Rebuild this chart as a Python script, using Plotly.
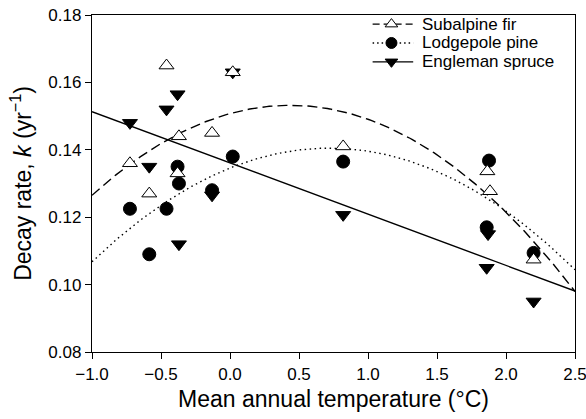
import numpy as np
import plotly.graph_objects as go

# ---- data ----
fir_x = [-0.725, -0.585, -0.46, -0.37, -0.38, -0.13, 0.02, 0.82, 1.865, 1.884, 2.20]
fir_y = [0.136, 0.127, 0.165, 0.144, 0.133, 0.145, 0.163, 0.141, 0.1336, 0.1277, 0.1074]

pine_x = [-0.725, -0.585, -0.46, -0.38, -0.37, -0.13, 0.02, 0.82, 1.877, 1.86, 2.20]
pine_y = [0.1225, 0.109, 0.1225, 0.135, 0.130, 0.128, 0.138, 0.1365, 0.1368, 0.117, 0.1094]

spruce_x = [-0.725, -0.585, -0.46, -0.38, -0.37, -0.13, 0.02, 0.82, 1.87, 1.86, 2.20]
spruce_y = [0.148, 0.135, 0.152, 0.1565, 0.112, 0.1265, 0.163, 0.1207, 0.115, 0.105, 0.095]

# fitted curves (vertex form for quadratics, slope/intercept for linear)
fir_fit = dict(a=-0.01296, h=0.4356, k=0.1532)
pine_fit = dict(a=-0.0114, h=0.72, k=0.1405)
spruce_fit = dict(b0=0.1361, b1=-0.0152)

legend_names = ["Subalpine fir", "Lodgepole pine", "Engleman spruce"]

x_range = [-1.0, 2.5]
y_range = [0.08, 0.18]
x_ticks = [-1.0, -0.5, 0.0, 0.5, 1.0, 1.5, 2.0, 2.5]
y_ticks = [0.08, 0.10, 0.12, 0.14, 0.16, 0.18]

xs = np.linspace(x_range[0], x_range[1], 200)
fir_curve = fir_fit["a"] * (xs - fir_fit["h"]) ** 2 + fir_fit["k"]
pine_curve = pine_fit["a"] * (xs - pine_fit["h"]) ** 2 + pine_fit["k"]
spruce_curve = spruce_fit["b0"] + spruce_fit["b1"] * xs

FONT = "Liberation Sans, Arial, sans-serif"
LW = 1.4
DASH = "10px,5px"
DOT = "1.5px,3.5px"

fig = go.Figure()

# fitted lines
fig.add_trace(go.Scatter(x=xs, y=fir_curve, mode="lines", showlegend=False,
                         line=dict(color="black", width=LW, dash=DASH), hoverinfo="skip"))
fig.add_trace(go.Scatter(x=xs, y=pine_curve, mode="lines", showlegend=False,
                         line=dict(color="black", width=LW, dash=DOT), hoverinfo="skip"))
fig.add_trace(go.Scatter(x=xs, y=spruce_curve, mode="lines", showlegend=False,
                         line=dict(color="black", width=LW), hoverinfo="skip"))

# points
fig.add_trace(go.Scatter(x=spruce_x, y=spruce_y, mode="markers", showlegend=False,
                         marker=dict(symbol="triangle-down", size=13, color="black",
                                     line=dict(color="black", width=1))))
fig.add_trace(go.Scatter(x=pine_x, y=pine_y, mode="markers", showlegend=False,
                         marker=dict(symbol="circle", size=13, color="black",
                                     line=dict(color="black", width=1))))
fig.add_trace(go.Scatter(x=fir_x, y=fir_y, mode="markers", showlegend=False,
                         marker=dict(symbol="triangle-up", size=13, color="white",
                                     line=dict(color="black", width=1))))

# ---- hand-built legend key on an overlay axis (0..1 in plot-area units) ----
key_line = [0.581, 0.665]     # horizontal extent of the key sample line
key_mark = 0.620              # marker position within the sample
key_text = 0.679              # text start
key_rows = [0.973, 0.917, 0.861]
key_styles = [
    dict(dash="7px,4px", symbol="triangle-up", fill="white", size=11),
    dict(dash="1.5px,3px", symbol="circle", fill="black", size=11),
    dict(dash="solid", symbol="triangle-down", fill="black", size=11),
]
for name, row, st in zip(legend_names, key_rows, key_styles):
    fig.add_trace(go.Scatter(x=key_line, y=[row, row], mode="lines", xaxis="x2", yaxis="y2",
                             showlegend=False, hoverinfo="skip",
                             line=dict(color="black", width=LW, dash=st["dash"])))
    fig.add_trace(go.Scatter(x=[key_mark], y=[row], mode="markers", xaxis="x2", yaxis="y2",
                             showlegend=False, hoverinfo="skip",
                             marker=dict(symbol=st["symbol"], size=st["size"], color=st["fill"],
                                         line=dict(color="black", width=1))))
    fig.add_annotation(x=key_text, y=row, xref="x2", yref="y2", text=name, showarrow=False,
                       xanchor="left", yanchor="middle",
                       font=dict(family=FONT, size=17, color="black"))

axis_common = dict(showgrid=False, zeroline=False, showline=True, linecolor="black",
                   linewidth=1.3, mirror=True, ticks="outside", ticklen=6, tickwidth=1.3,
                   tickcolor="black", automargin=False, ticklabeloverflow="allow",
                   tickfont=dict(family=FONT, size=17, color="black"))

fig.update_xaxes(range=x_range, tickvals=x_ticks, tickformat=".1f",
                 title=dict(text="Mean annual temperature (°C)", standoff=8,
                            font=dict(family=FONT, size=23, color="black")),
                 **axis_common)
fig.update_yaxes(range=y_range, tickvals=y_ticks, tickformat=".2f",
                 title=dict(text="Decay rate, <i>k</i> (yr<sup>−1</sup>)", standoff=10,
                            font=dict(family=FONT, size=23, color="black")),
                 **axis_common)

fig.update_layout(
    width=586, height=419,
    margin=dict(l=92, r=11, t=15, b=67),
    plot_bgcolor="white", paper_bgcolor="white",
    font=dict(family=FONT, color="black"),
    showlegend=False,
    xaxis2=dict(overlaying="x", range=[0, 1], visible=False, fixedrange=True),
    yaxis2=dict(overlaying="y", range=[0, 1], visible=False, fixedrange=True),
)

fig.write_html("out.html")
